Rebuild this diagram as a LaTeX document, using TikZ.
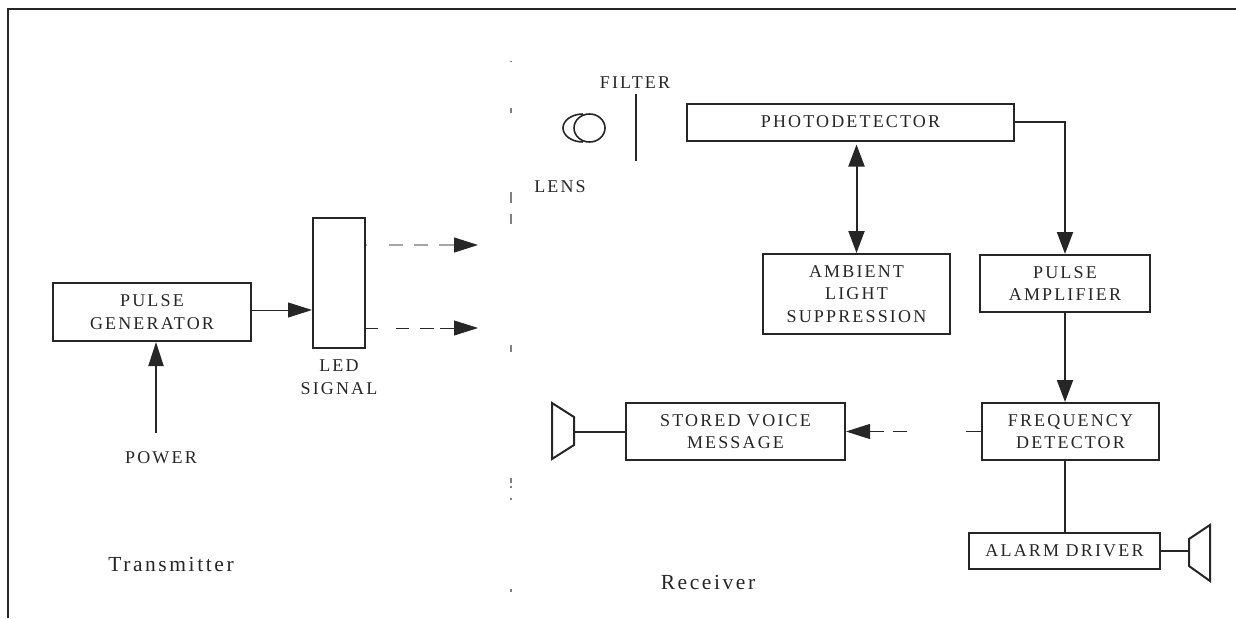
\documentclass[tikz,border=0pt]{standalone}
\usepackage{fontspec}
\setmainfont[LetterSpace=12]{Liberation Serif}
\usetikzlibrary{arrows.meta}
\definecolor{inkline}{gray}{0.15}
\tikzset{
    blockbox/.style={draw=inkline, line width=2pt, align=center, inner sep=0pt, text=inkline, font=\fontsize{18}{22.5}\selectfont},
    caption/.style={align=center, inner sep=0pt, text=inkline, font=\fontsize{18}{22.5}\selectfont},
    sidetitle/.style={inner sep=0pt, text=inkline, font=\fontsize{21.5}{26}\selectfont},
    bigtip/.style={-{Triangle[length=24pt, width=15pt, color=inkline]}},
    wire/.style={draw=inkline, line width=2pt},
    thinwire/.style={draw=inkline, line width=0.9pt},
    tick/.style={draw=gray, line width=1.1pt}
}

\begin{document}
\begin{tikzpicture}[x=1pt, y=-1pt, node distance=100pt]
    \useasboundingbox (0,0) rectangle (1236,618);
    \draw[inkline, line width=2pt] (8,618) -- (8,9) -- (1236,9);
    \foreach \ya/\yb in {61/62, 108/113, 192/203, 214/224, 345/352, 478/483, 486/488, 498/500, 589/592}
        \draw[tick] (511,\ya) -- (511,\yb);

    % transmitter side
    \node[blockbox, minimum width=198pt, minimum height=58pt] (gen) at (152,312) {PULSE\\GENERATOR};
    \node[blockbox, minimum width=52pt, minimum height=130pt] (led) at (339,283) {};
    \node[caption, below of=led, node distance=94pt] (ledlabel) {LED\\SIGNAL};
    \node[caption] (power) at (161,458) {POWER};
    \node[sidetitle] (transmitter) at (171,564) {Transmitter};
    \coordinate (powerend) at (156,433);
    \coordinate (upend) at (478,245);
    \coordinate (lowend) at (478,328);

    % receiver side
    \node[blockbox, minimum width=327pt, minimum height=37pt] (photo) at (850.5,122) {PHOTODETECTOR};
    \node[blockbox, minimum width=187pt, minimum height=80pt] (ambient) at (856.5,294) {AMBIENT\\LIGHT\\SUPPRESSION};
    \node[blockbox, minimum width=170pt, minimum height=57pt] (amp) at (1065,283.5) {PULSE\\AMPLIFIER};
    \node[blockbox, minimum width=177pt, minimum height=57pt] (freq) at (1070.5,431.5) {FREQUENCY\\DETECTOR};
    \node[blockbox, minimum width=219pt, minimum height=57pt, left of=freq, node distance=335pt] (voice) {STORED VOICE\\MESSAGE};
    \node[blockbox, minimum width=191pt, minimum height=36pt] (alarm) at (1064.5,551) {ALARM DRIVER};
    \node[caption] (filter) at (635,83) {FILTER};
    \node[caption] (lens) at (560,187) {LENS};
    \node[sidetitle] (receiver) at (708,582) {Receiver};
    \coordinate (hornleft) at (574,431.5);
    \coordinate (hornright) at (1189,551);

    \draw[wire] (636,94) -- (636,161);
    \draw[line width=1.6pt, inkline] (589.5,128) ellipse [x radius=15.5, y radius=14];
    \draw[line width=1.6pt, inkline] (583,114) arc [start angle=270, end angle=90, x radius=20, y radius=14];
    \draw[wire] (552,403) -- (574,417) -- (574,445) -- (552,459) -- cycle;
    \draw[wire] (1189,539) -- (1210,525) -- (1210,581) -- (1189,566) -- cycle;

    \draw[thinwire, bigtip] (gen.east |- led.center) ++(0,27) -- (led.west |- 0,310);
    \draw[wire, bigtip] (powerend) -- (gen.south -| powerend);
    \draw[draw=gray!70, line width=1.1pt, bigtip, dash pattern=on 1pt off 22pt on 14pt off 11pt on 14pt off 11pt on 30pt] (led.east |- upend) -- (upend);
    \draw[thinwire, bigtip, dash pattern=on 12pt off 18pt on 13pt off 11pt on 14pt off 6pt on 30pt] (led.east |- lowend) -- (lowend);
    \draw[wire, {Triangle[length=22pt, width=16pt]}-{Triangle[length=22pt, width=16pt]}, shorten <=3pt] (photo.south -| ambient.north) -- (ambient.north);
    \draw[wire, -{Triangle[length=22pt, width=16pt]}] (photo.east) -| (amp.north);
    \draw[wire, -{Triangle[length=22pt, width=16pt]}] (amp.south) -- (amp.south |- freq.north);
    \draw[thinwire, bigtip, dash pattern=on 15pt off 59pt on 14pt off 9pt on 40pt] (freq.west) -- (voice.east);
    \draw[wire] (freq.south -| alarm.north) -- (alarm.north);
    \draw[wire] (voice.west) -- (hornleft);
    \draw[wire] (alarm.east) -- (hornright);
\end{tikzpicture}
\end{document}
